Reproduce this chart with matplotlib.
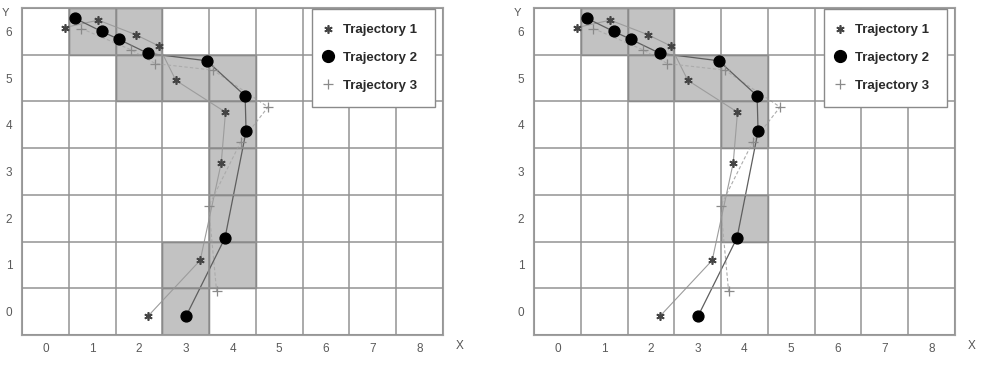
import numpy as np
import matplotlib
matplotlib.use('Agg')
import matplotlib.pyplot as plt
from matplotlib.patches import Rectangle
from matplotlib.lines import Line2D

plt.rcParams['font.family'] = ['Liberation Sans', 'DejaVu Sans']

# grid size (cells centred on integers)
x_cells = np.arange(0, 9)
y_cells = np.arange(0, 7)

# trajectories (same in both panels)
traj1_x = [0.41, 1.13, 1.93, 2.42, 2.79, 3.85, 3.76, 3.31, 2.20]
traj1_y = [6.08, 6.24, 5.93, 5.69, 4.95, 4.27, 3.19, 1.10, -0.09]

traj2_x = [0.63, 1.20, 1.57, 2.19, 3.45, 4.27, 4.29, 3.84, 3.01]
traj2_y = [6.28, 6.00, 5.83, 5.53, 5.37, 4.62, 3.86, 1.58, -0.09]

traj3_x = [0.77, 1.82, 2.35, 3.58, 4.76, 4.18, 3.49, 3.66]
traj3_y = [6.06, 5.61, 5.31, 5.17, 4.38, 3.64, 2.26, 0.44]

labels = ['Trajectory 1', 'Trajectory 2', 'Trajectory 3']

# shaded cells
left_cells_x = [1, 2, 2, 3, 4, 4, 4, 4, 3, 4, 3]
left_cells_y = [6, 6, 5, 5, 5, 4, 3, 2, 1, 1, 0]
right_cells_x = [1, 2, 2, 3, 4, 4, 4]
right_cells_y = [6, 6, 5, 5, 5, 4, 2]

fig = plt.figure(figsize=(9.85, 3.71), dpi=100)
ax_left = fig.add_axes([0.02234, 0.09704, 0.42741, 0.88140])
ax_right = fig.add_axes([0.54213, 0.09704, 0.42741, 0.88140])


def draw_panel(ax, cells_x, cells_y):
    # shaded cells
    for cx, cy in zip(cells_x, cells_y):
        ax.add_patch(Rectangle((cx - 0.5, cy - 0.5), 1, 1, facecolor='#c2c2c2',
                               edgecolor='#707070', lw=1.0, zorder=0.5))

    ax.set_xlim(x_cells[0] - 0.5, x_cells[-1] + 0.5)
    ax.set_ylim(y_cells[0] - 0.5, y_cells[-1] + 0.5)
    ax.set_xticks(x_cells)
    ax.set_yticks(y_cells)
    ax.set_xticks(np.append(x_cells, x_cells[-1] + 1) - 0.5, minor=True)
    ax.set_yticks(np.append(y_cells, y_cells[-1] + 1) - 0.5, minor=True)
    ax.grid(which='minor', color='#939393', lw=1.1, zorder=1)
    ax.grid(which='major', visible=False)
    ax.set_axisbelow(False)
    ax.tick_params(which='both', length=0)
    ax.tick_params(axis='x', pad=6, labelsize=8.5, labelcolor='#5a5a5a')
    ax.tick_params(axis='y', pad=7, labelsize=8.5, labelcolor='#5a5a5a')
    for sp in ax.spines.values():
        sp.set_color('#a0a0a0')
        sp.set_linewidth(1.5)

    # trajectories
    ax.plot(traj1_x, traj1_y, color='#9c9c9c', lw=0.8, zorder=2)
    ax.plot(traj3_x, traj3_y, color='#ababab', lw=0.8, dashes=(3, 2), zorder=2)
    ax.plot(traj2_x, traj2_y, color='#5e5e5e', lw=0.9, zorder=2)
    ax.plot(traj1_x, traj1_y, ls='none', marker=(6, 2, 0), ms=6, mew=1.2,
            color='#444444', zorder=3)
    ax.plot(traj3_x, traj3_y, ls='none', marker='+', ms=6.5, mew=0.9,
            color='#8a8a8a', zorder=3)
    ax.plot(traj2_x, traj2_y, ls='none', marker='o', ms=7.8,
            color='black', zorder=4)

    # axis letters
    ax.text(-0.040, 0.985, 'Y', transform=ax.transAxes, fontsize=8,
            color='#555555', ha='center', va='center')
    ax.text(1.040, -0.034, 'X', transform=ax.transAxes, fontsize=8.5,
            color='#555555', ha='center', va='center')

    handles = [
        Line2D([], [], ls='none', marker=(6, 2, 0), ms=6, mew=1.2, color='#444444'),
        Line2D([], [], ls='none', marker='o', ms=8.5, color='black'),
        Line2D([], [], ls='none', marker='+', ms=7, mew=0.9, color='#8a8a8a'),
    ]
    leg = ax.legend(handles, labels, loc='upper left', mode='expand',
                    bbox_to_anchor=(0.689, 0.0, 0.292, 0.997),
                    borderaxespad=0, borderpad=1.15, handlelength=0.05,
                    handletextpad=1.15, labelspacing=1.17, fancybox=False,
                    framealpha=1, edgecolor='#8a8a8a',
                    prop={'weight': 'bold', 'size': 9.5})
    leg.get_frame().set_linewidth(1.0)
    for t in leg.get_texts():
        t.set_color('#2a2a2a')
    leg.set_zorder(5)


draw_panel(ax_left, left_cells_x, left_cells_y)
draw_panel(ax_right, right_cells_x, right_cells_y)

plt.savefig('out.png', dpi=100)
